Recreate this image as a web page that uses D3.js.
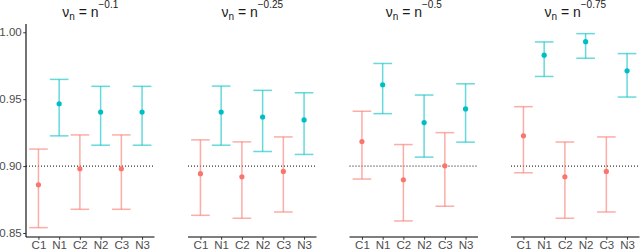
<!DOCTYPE html>
<html><head><meta charset="utf-8">
<script src="https://cdn.jsdelivr.net/npm/d3@7"></script>
<style>body{margin:0;background:#fff}svg{display:block}text{font-family:"Liberation Sans",Arial,sans-serif}</style>
</head><body><svg id="c" width="640" height="251"></svg>
<script>
const categories = ["C1","N1","C2","N2","C3","N3"];
const exponents = ["0.1","0.25","0.5","0.75"];
const yTicks = [0.85, 0.90, 0.95, 1.00];
const refLine = 0.90;
// per panel: point estimates, lower, upper
const est = [
  [0.886, 0.9466, 0.898, 0.9404, 0.898, 0.9404],
  [0.8943, 0.9404, 0.892, 0.9367, 0.896, 0.9345],
  [0.9183, 0.9608, 0.8898, 0.9325, 0.9002, 0.9427],
  [0.9226, 0.9829, 0.892, 0.993, 0.896, 0.9712]
];
const lower = [
  [0.854, 0.9226, 0.8677, 0.9156, 0.8677, 0.9156],
  [0.8632, 0.9156, 0.861, 0.9109, 0.8657, 0.9087],
  [0.8903, 0.9392, 0.859, 0.9067, 0.870, 0.9179],
  [0.895, 0.967, 0.861, 0.9806, 0.8657, 0.9516]
];
const upper = [
  [0.9127, 0.9648, 0.9233, 0.9596, 0.9233, 0.9596],
  [0.9196, 0.9598, 0.9181, 0.9566, 0.9218, 0.9548],
  [0.941, 0.9767, 0.9161, 0.9531, 0.925, 0.9615],
  [0.9444, 0.9928, 0.918, 0.999, 0.9218, 0.9841]
];
const colC = "#F8766D", colN = "#00BFC4";

const svg = d3.select("#c");
const panelLeft = [26, 188, 349.5, 511];
const panelW = 128.5;
const plotTop = 24, plotBottom = 237;
const y = d3.scaleLinear().domain([0.8470, 1.0062]).range([plotBottom, plotTop]);

panelLeft.forEach((px, p) => {
  const g = svg.append("g");
  const x = d3.scalePoint().domain(categories).range([px, px + panelW]).padding(0.6);
  const step = x.step();
  // title
  const t = g.append("text").attr("x", px + panelW/2).attr("y", 16.5).attr("text-anchor","middle")
    .attr("font-size", 14).attr("fill","#1a1a1a");
  t.append("tspan").text("ν");
  t.append("tspan").text("n").attr("font-size", 10).attr("dy", 3.5);
  t.append("tspan").text(" = n").attr("dy", -3.5);
  t.append("tspan").text("−" + exponents[p]).attr("font-size", 10).attr("dy", -8.5);
  // x axis
  const xa = g.append("g").attr("transform", `translate(0,${plotBottom})`)
    .call(d3.axisBottom(x).tickSize(2.75).tickPadding(1.5).tickSizeOuter(0));
  xa.select(".domain").attr("stroke","#000").attr("stroke-width",1.1)
    .attr("d", `M${px},0H${px+panelW}`);
  xa.selectAll(".tick line").attr("stroke","#333");
  xa.selectAll(".tick text").attr("fill","#4d4d4d").attr("font-size",11.5).attr("font-family","Liberation Sans, Arial, sans-serif");
  if (p === 0) {
    const ya = g.append("g").attr("transform", `translate(${px},0)`)
      .call(d3.axisLeft(y).tickValues(yTicks).tickFormat(d3.format(".2f")).tickSize(2.75).tickPadding(1.5).tickSizeOuter(0));
    ya.select(".domain").attr("stroke","#000").attr("stroke-width",1.1).attr("d", `M0,${plotTop}V${plotBottom}`);
    ya.selectAll(".tick line").attr("stroke","#333");
    ya.selectAll(".tick text").attr("fill","#4d4d4d").attr("font-size",11.5).attr("font-family","Liberation Sans, Arial, sans-serif");
  }
  // reference line
  g.append("line").attr("x1", px).attr("x2", px + panelW).attr("y1", y(refLine)).attr("y2", y(refLine))
    .attr("stroke","#000").attr("stroke-width",1).attr("stroke-dasharray","1,2");
  categories.forEach((c, i) => {
    const col = c[0] === "C" ? colC : colN;
    const cx = x(c), hw = step * 0.45;
    const eb = g.append("g").attr("stroke", col).attr("stroke-opacity", 0.6).attr("stroke-width", 1.5).attr("fill","none");
    eb.append("line").attr("x1", cx).attr("x2", cx).attr("y1", y(lower[p][i])).attr("y2", y(upper[p][i]));
    eb.append("line").attr("x1", cx-hw).attr("x2", cx+hw).attr("y1", y(lower[p][i])).attr("y2", y(lower[p][i]));
    eb.append("line").attr("x1", cx-hw).attr("x2", cx+hw).attr("y1", y(upper[p][i])).attr("y2", y(upper[p][i]));
    g.append("circle").attr("cx", cx).attr("cy", y(est[p][i])).attr("r", 2.6).attr("fill", col);
  });
});
</script></body></html>
